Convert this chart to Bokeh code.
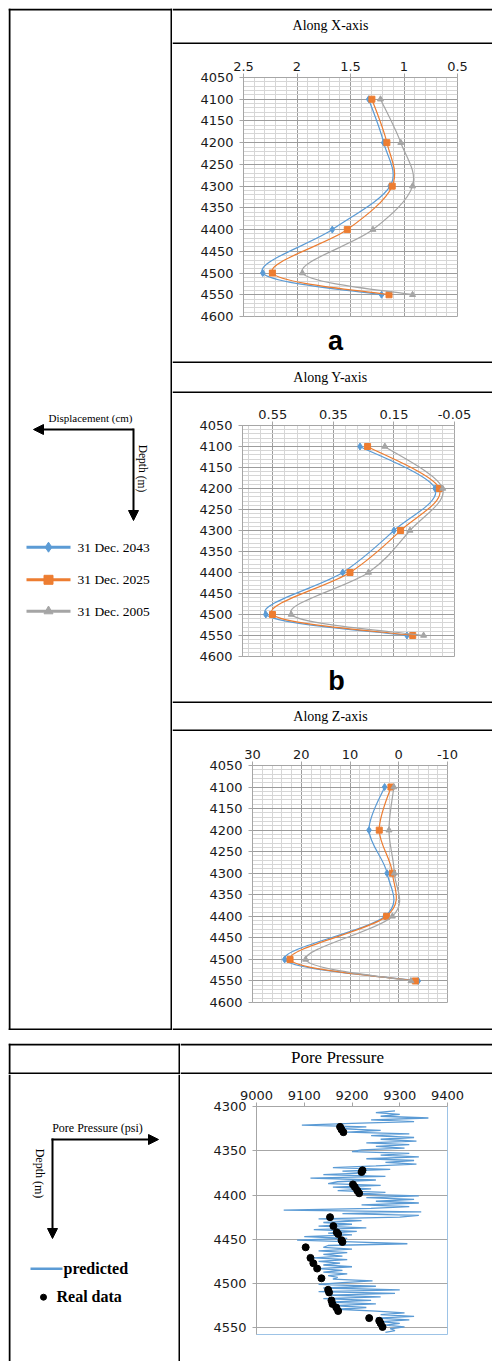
from bokeh.plotting import figure
from bokeh.layouts import column, row
from bokeh.models import Range1d, FixedTicker, Arrow, NormalHead, Spacer, ColumnDataSource, NumeralTickFormatter
from bokeh.core.properties import value
from bokeh.embed import file_html
from bokeh.resources import INLINE

# ---------------- data ----------------
depths = [4100, 4200, 4300, 4400, 4500, 4550]
series_names = ["31 Dec. 2043", "31 Dec. 2025", "31 Dec. 2005"]

disp_x_2043 = [1.33, 1.19, 1.13, 1.67, 2.32, 1.21]
disp_x_2025 = [1.30, 1.16, 1.11, 1.53, 2.23, 1.14]
disp_x_2005 = [1.22, 1.03, 0.92, 1.29, 1.95, 0.92]

disp_y_2043 = [0.262, 0.014, 0.150, 0.319, 0.573, 0.107]
disp_y_2025 = [0.237, 0.000, 0.128, 0.295, 0.551, 0.088]
disp_y_2005 = [0.180, -0.011, 0.097, 0.234, 0.489, 0.052]

disp_z_2043 = [2.9, 6.1, 2.4, 2.8, 23.4, -4.0]
disp_z_2025 = [1.6, 4.0, 1.3, 2.5, 22.3, -3.4]
disp_z_2005 = [1.0, 2.0, 0.9, 1.3, 19.1, -2.5]

depth_ticks = [4050, 4100, 4150, 4200, 4250, 4300, 4350, 4400, 4450, 4500, 4550, 4600]
x_ticks_a = [2.5, 2.0, 1.5, 1.0, 0.5]
x_ticks_b = [0.55, 0.35, 0.15, -0.05]
x_ticks_c = [30, 20, 10, 0, -10]

pp_depth = [4305, 4307, 4309, 4311, 4313, 4315, 4317, 4319, 4321, 4323, 4325, 4327, 4329,
            4331, 4333, 4335, 4337, 4339, 4341, 4343, 4345, 4347, 4349,
            4351, 4353, 4355, 4357, 4359, 4361, 4363, 4365, 4367,
            4369, 4371, 4373, 4375, 4377, 4379, 4381, 4383, 4385,
            4387, 4389, 4391, 4393, 4395, 4397, 4399,
            4401, 4403, 4405, 4407, 4409, 4411, 4413, 4415, 4417, 4419, 4421, 4423, 4425,
            4427, 4429, 4431, 4433, 4435, 4437, 4439, 4441, 4443, 4445, 4447, 4449, 4451,
            4453, 4455, 4457,
            4459, 4461, 4463, 4465, 4467, 4469, 4471, 4473, 4475, 4477, 4479, 4481, 4483, 4485,
            4487, 4489, 4491, 4493, 4495, 4497,
            4499, 4501, 4503, 4505, 4507, 4509, 4511, 4513, 4515, 4517, 4519, 4521, 4523, 4525,
            4527, 4529,
            4531, 4533, 4535, 4537, 4539, 4541, 4543, 4545, 4547, 4549, 4551, 4553, 4555]
pp_pred = [9290, 9250, 9300, 9260, 9360, 9240, 9330, 9200,
           9095, 9230, 9170, 9260, 9190,
           9320, 9240, 9330, 9260, 9335, 9230, 9320, 9250, 9310, 9220,
           9200, 9320, 9260, 9340, 9230, 9330, 9270, 9335, 9250,
           9160, 9280, 9180, 9230, 9140, 9270, 9113, 9250, 9170,
           9150, 9260, 9160, 9240, 9170, 9270, 9210,
           9340, 9230, 9330, 9250, 9340, 9220, 9320, 9240, 9057, 9345, 9180, 9340, 9300,
           9130, 9220, 9140, 9200, 9130, 9230, 9120, 9210, 9150, 9200, 9100, 9190, 9085,
           9200, 9316, 9150,
           9140, 9200, 9130, 9190, 9140, 9180, 9120, 9190, 9130, 9175, 9140, 9200, 9130, 9180,
           9140, 9190, 9150, 9170, 9160, 9243,
           9180, 9130, 9250, 9140, 9300, 9130, 9290, 9150, 9260, 9140, 9240, 9150, 9250, 9160,
           9230, 9170,
           9250, 9310, 9260, 9330, 9250, 9320, 9260, 9300, 9270, 9310, 9280, 9290, 9270]
pp_real_depth = [4323, 4326, 4329, 4372, 4374, 4388, 4391, 4395, 4398, 4425, 4435, 4442, 4444,
                 4451, 4453, 4459, 4471, 4477, 4483, 4494, 4507, 4510, 4519, 4523, 4527, 4531,
                 4539, 4542, 4545, 4549]
pp_real = [9175, 9178, 9182, 9222, 9220, 9202, 9206, 9211, 9215, 9154, 9161, 9168, 9171,
           9178, 9180, 9103, 9113, 9119, 9127, 9136, 9150, 9152, 9157, 9159, 9167, 9171,
           9236, 9257, 9260, 9264]
pp_x_ticks = [9000, 9100, 9200, 9300, 9400]
pp_depth_ticks = [4300, 4350, 4400, 4450, 4500, 4550]

BLUE, ORANGE, GRAY = "#5B9BD5", "#ED7D31", "#A5A5A5"
colors = [BLUE, ORANGE, GRAY]
markers = ["diamond", "square", "triangle"]
msize = [7, 6, 6]

SERIF = value("Liberation Serif")
SANS = value("Liberation Sans")


# ---------------- helpers ----------------
def cell(w, h, top=False, bottom=False, left=False, right=False):
    p = figure(width=w, height=h, x_range=Range1d(0, w), y_range=Range1d(h, 0),
               x_axis_type=None, y_axis_type=None, output_backend="svg",
               toolbar_location=None, min_border=0, outline_line_color=None, title=None)
    p.grid.visible = False
    x0, y0, x1, y1 = [], [], [], []
    if top:
        x0.append(0); x1.append(w); y0.append(1); y1.append(1)
    if bottom:
        x0.append(0); x1.append(w); y0.append(h - 1); y1.append(h - 1)
    if left:
        x0.append(1); x1.append(1); y0.append(0); y1.append(h)
    if right:
        x0.append(w - 1); x1.append(w - 1); y0.append(0); y1.append(h)
    if x0:
        p.segment(x0=x0, y0=y0, x1=x1, y1=y1, line_color="black", line_width=2, line_cap="butt")
    return p


def txt(p, x, y, s, size, font=SERIF, align="center", baseline="middle", angle=0, style="normal"):
    p.text(x=[x], y=[y], text=[s], text_font=font, text_font_size=size, text_align=align,
           text_baseline=baseline, angle=angle, text_color="black", text_font_style=style)


def smooth(xs, ys):
    n = len(xs)
    d = {k: [] for k in ["x0", "y0", "x1", "y1", "cx0", "cy0", "cx1", "cy1"]}
    for i in range(n - 1):
        a = max(i - 1, 0)
        b = min(i + 2, n - 1)
        d["x0"].append(xs[i]); d["y0"].append(ys[i])
        d["x1"].append(xs[i + 1]); d["y1"].append(ys[i + 1])
        d["cx0"].append(xs[i] + (xs[i + 1] - xs[a]) / 6.0)
        d["cy0"].append(ys[i] + (ys[i + 1] - ys[a]) / 6.0)
        d["cx1"].append(xs[i + 1] - (xs[b] - xs[i]) / 6.0)
        d["cy1"].append(ys[i + 1] - (ys[b] - ys[i]) / 6.0)
    return ColumnDataSource(d)


def style_axes(p, size="13px"):
    for ax in [p.xaxis[0], p.yaxis[0]]:
        ax.axis_line_color = "#A6A6A6"
        ax.major_tick_line_color = "#A6A6A6"
        ax.major_tick_out = 4
        ax.major_tick_in = 0
        ax.minor_tick_line_color = None
        ax.major_label_text_font = "DejaVu Sans"
        ax.major_label_text_font_size = size
        ax.major_label_text_color = "#1a1a1a"
    p.xaxis.major_label_standoff = 3
    p.yaxis.major_label_standoff = 6


def disp_chart(w, h, xr, xticks, xminor, data, borders, fmt):
    p = figure(width=w, height=h, x_range=Range1d(*xr), y_range=Range1d(4600, 4050),
               x_axis_location="above", output_backend="svg", toolbar_location=None,
               title=None, min_border_left=borders[0], min_border_right=borders[1],
               min_border_top=borders[2], min_border_bottom=borders[3],
               outline_line_color="#A6A6A6")
    p.xaxis.ticker = FixedTicker(ticks=xticks, minor_ticks=xminor)
    p.yaxis.ticker = FixedTicker(ticks=depth_ticks, minor_ticks=list(range(4050, 4601, 10)))
    p.xaxis.formatter = NumeralTickFormatter(format=fmt)
    for g in [p.xgrid[0], p.ygrid[0]]:
        g.grid_line_color = "#9C9C9C"
        g.minor_grid_line_color = "#D6D6D6"
        g.grid_line_width = 1
    style_axes(p)
    for vals, c, m, s in zip(data, colors, markers, msize):
        src = smooth(vals, depths)
        p.bezier(x0="x0", y0="y0", x1="x1", y1="y1", cx0="cx0", cy0="cy0", cx1="cx1",
                 cy1="cy1", source=src, line_color=c, line_width=1.2)
        p.scatter(vals, depths, marker=m, size=s, color=c)
    return p


def wrap(p):
    # each plot in its own box so the column does not align plot frames
    return row(p)


# ---------------- top table ----------------
RW = 320
hdr_a = cell(RW, 36, top=True, bottom=True); txt(hdr_a, 158, 17, "Along X-axis", "14px")
chart_a = disp_chart(RW, 280, (2.5, 0.5), x_ticks_a,
                     [round(0.5 + 0.1 * k, 1) for k in range(21)],
                     [disp_x_2043, disp_x_2025, disp_x_2005], (71, 35, 33, 8), "0.[0]")
lab_a = cell(RW, 39, bottom=True)
txt(lab_a, 163, 16.5, "a", "27px", font=SANS, style="bold")

hdr_b = cell(RW, 30, bottom=True); txt(hdr_b, 158, 14, "Along Y-axis", "14px")
chart_b = disp_chart(RW, 271, (0.65, -0.05), x_ticks_b,
                     [round(-0.05 + 0.04 * k, 2) for k in range(18)],
                     [disp_y_2043, disp_y_2025, disp_y_2005], (70, 38, 32, 8), "0.[00]")
lab_b = cell(RW, 39, bottom=True)
txt(lab_b, 164, 16, "b", "27px", font=SANS, style="bold")

hdr_c = cell(RW, 28, bottom=True); txt(hdr_c, 158, 13, "Along Z-axis", "14px")
chart_c = disp_chart(RW, 279, (30, -10), x_ticks_c, list(range(-10, 31, 2)),
                     [disp_z_2043, disp_z_2025, disp_z_2005], (80, 45, 34, 8), "0")
foot_c = cell(RW, 20, bottom=True)

right_col = column(*[wrap(x) for x in
                     [hdr_a, chart_a, lab_a, hdr_b, chart_b, lab_b, hdr_c, chart_c, foot_c]])

left1 = cell(164, 1022, top=True, bottom=True, left=True, right=True)
txt(left1, 82, 409, "Displacement (cm)", "11px")
left1.add_layout(Arrow(end=NormalHead(size=10, fill_color="black", line_color="black"),
                       x_start=125, y_start=421, x_end=25, y_end=421, line_width=2))
left1.add_layout(Arrow(end=NormalHead(size=10, fill_color="black", line_color="black"),
                       x_start=125, y_start=420, x_end=125, y_end=512, line_width=2))
txt(left1, 134, 460, "Depth (m)", "11.5px", angle=-1.5708)
for i, (nm, c, m) in enumerate(zip(series_names, colors, markers)):
    yy = [538.7, 571.3, 602.7][i]
    left1.line([18, 62], [yy, yy], line_color=c, line_width=3)
    left1.scatter([40], [yy], marker=m, size=[10, 9, 9][i], color=c)
    txt(left1, 69, yy, nm, "13.5px", align="left")

top_table = row(wrap(left1), right_col)

# ---------------- bottom table ----------------
hdr_l = cell(172, 31, top=True, bottom=True, left=True, right=True)
hdr_pp = cell(312, 31, top=True, bottom=True); txt(hdr_pp, 157, 14, "Pore Pressure", "17px")

chart_d = figure(width=312, height=287, x_range=Range1d(9000, 9400), y_range=Range1d(4557.5, 4300),
                 x_axis_location="above", output_backend="svg", toolbar_location=None, title=None,
                 min_border_left=76, min_border_right=45, min_border_top=32, min_border_bottom=27,
                 outline_line_color="#9DC3E6")
chart_d.xaxis.ticker = FixedTicker(ticks=pp_x_ticks)
chart_d.yaxis.ticker = FixedTicker(ticks=pp_depth_ticks)
chart_d.xgrid.visible = False
chart_d.ygrid.grid_line_color = "#A6A6A6"
style_axes(chart_d)
chart_d.line(pp_pred, pp_depth, line_color=BLUE, line_width=1.3)
chart_d.scatter(pp_real, pp_real_depth, size=7, color="black")

left2 = cell(172, 287, left=True, right=True)
txt(left2, 89, 53, "Pore Pressure (psi)", "12px")
left2.add_layout(Arrow(end=NormalHead(size=10, fill_color="black", line_color="black"),
                       x_start=43, y_start=65, x_end=150, y_end=65, line_width=2))
left2.add_layout(Arrow(end=NormalHead(size=10, fill_color="black", line_color="black"),
                       x_start=44, y_start=64, x_end=44, y_end=164, line_width=2))
txt(left2, 31, 99, "Depth (m)", "12px", angle=-1.5708)
left2.line([22, 54], [194.3, 194.3], line_color=BLUE, line_width=2.5)
txt(left2, 55, 194, "predicted", "16px", align="left", style="bold")
left2.scatter([35], [222.7], size=6, color="black")
txt(left2, 48, 222, "Real data", "16px", align="left", style="bold")

bottom_table = row(column(wrap(hdr_l), wrap(left2)), column(wrap(hdr_pp), wrap(chart_d)))

content = column(Spacer(width=484, height=8), top_table, Spacer(width=484, height=13), bottom_table)
layout = row(Spacer(width=8, height=1361), content)
open("out.html", "w").write(file_html(layout, INLINE))
